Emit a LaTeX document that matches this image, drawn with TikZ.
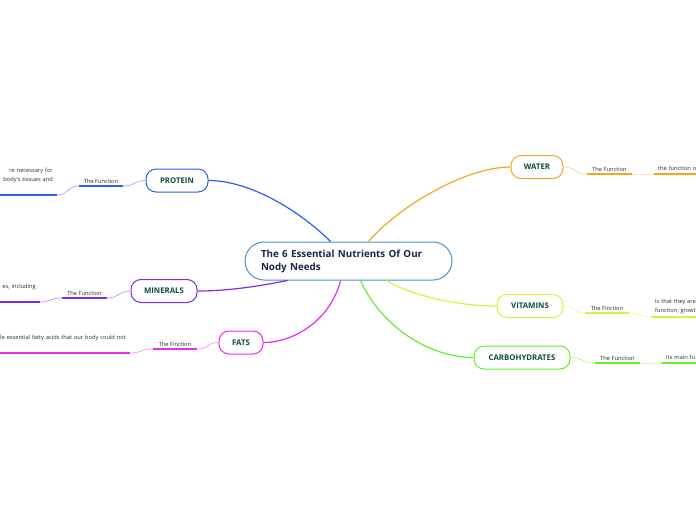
\documentclass[tikz,border=0pt]{standalone}
\usepackage{fontspec}
\setmainfont{Open Sans}
\usepackage{xcolor}
\usetikzlibrary{positioning}

\definecolor{hubline}{HTML}{4A90D2}
\definecolor{hubtext}{HTML}{14264F}
\definecolor{labtext}{HTML}{0E4D3C}
\definecolor{bodytext}{HTML}{2B2B2B}
\definecolor{cprotein}{HTML}{2A5EF5}
\definecolor{cminerals}{HTML}{7A2CF2}
\definecolor{cfats}{HTML}{E82CEB}
\definecolor{cwater}{HTML}{F7A325}
\definecolor{cvitamins}{HTML}{D6F23A}
\definecolor{ccarbs}{HTML}{5FF02E}

\tikzset{
  hub/.style={draw=hubline, line width=1pt, rounded corners=19pt, fill=white,
    text=hubtext, font=\fontsize{9.8}{13}\selectfont\bfseries,
    text width=175pt, align=left, inner xsep=16pt, minimum height=38pt},
  topic/.style={draw, line width=1pt, rounded corners=10pt, fill=white,
    text=labtext, font=\fontsize{7.8}{9}\selectfont\bfseries, minimum height=23pt},
  fnlabel/.style={text=bodytext, font=\fontsize{5.7}{9}\selectfont,
    inner xsep=0pt, inner ysep=2pt, anchor=south},
  descleft/.style={text=bodytext, font=\fontsize{5.7}{9}\selectfont,
    text width=170pt, align=right, inner xsep=4pt, anchor=south east},
  descright/.style={text=bodytext, font=\fontsize{5.7}{9}\selectfont,
    text width=170pt, align=left, inner xsep=4pt, anchor=south west},
  branch/.style={line width=1.2pt},
  ul/.style={line width=1.5pt},
  twig/.style={line width=0.8pt}
}

\begin{document}
\begin{tikzpicture}[x=1pt, y=-1pt]
\useasboundingbox (0,0) rectangle (696,520);

% centre
\node[hub] (hub) at (348.5,261) {The 6 Essential Nutrients Of Our\\Nody Needs};

% main topics
\node[topic, draw=cprotein, minimum width=62pt] (protein) at (177,180.5) {PROTEIN};
\node[topic, draw=cminerals, minimum width=66pt] (minerals) at (164,291) {MINERALS};
\node[topic, draw=cfats, minimum width=44pt] (fats) at (241,342.5) {FATS};
\node[topic, draw=cwater, minimum width=52pt] (water) at (537,167) {WATER};
\node[topic, draw=cvitamins, minimum width=66pt] (vitamins) at (530,306) {VITAMINS};
\node[topic, draw=ccarbs, minimum width=96pt] (carbs) at (522,357.5) {CARBOHYDRATES};

\draw[branch, cprotein] ([xshift=-18pt]hub.north) .. controls +(-30,-30) and +(42,0) .. (protein.east);
\draw[branch, cwater] ([xshift=20pt]hub.north) .. controls +(30,-35) and +(-45,0) .. (water.west);
\draw[branch, cminerals] ([xshift=-61pt]hub.south) .. controls +(-30,6) and +(30,0) .. (minerals.east);
\draw[branch, cfats] ([xshift=-8pt]hub.south) .. controls +(-10,40) and +(30,0) .. (fats.east);
\draw[branch, cvitamins] ([xshift=38pt]hub.south) .. controls +(25,15) and +(-40,0) .. (vitamins.west);
\draw[branch, ccarbs] ([xshift=12pt]hub.south) .. controls +(20,45) and +(-45,0) .. (carbs.west);

% protein
\node[fnlabel, minimum width=44pt] (protfn) at (101,186) {The Function};
\node[descleft, inner ysep=11.5pt] (protdesc) at (57,195) {re necessary for\\body's tissues and};
\draw[ul, cprotein] (protfn.south west) -- (protfn.south east);
\draw[ul, cprotein] (protdesc.south west) -- (protdesc.south east);
\draw[twig, cprotein!45] (protein.west) .. controls +(-12,0) and +(12,0) .. (protfn.south east);
\draw[twig, cprotein!45] (protfn.south west) .. controls +(-12,0) and +(12,0) .. (protdesc.south east);

% minerals
\node[fnlabel, minimum width=45pt] (minfn) at (84.5,298) {The Function};
\node[descleft, inner ysep=11.5pt] (mindesc) at (40,302) {es, including};
\draw[ul, cminerals] (minfn.south west) -- (minfn.south east);
\draw[ul, cminerals] (mindesc.south west) -- (mindesc.south east);
\draw[twig, cminerals!45] (minerals.west) .. controls +(-12,0) and +(12,0) .. (minfn.south east);
\draw[twig, cminerals!45] (minfn.south west) .. controls +(-12,0) and +(12,0) .. (mindesc.south east);

% fats
\node[fnlabel, minimum width=44pt] (fatfn) at (175,349) {The Finction};
\node[descleft, inner ysep=11.5pt] (fatdesc) at (130,353) {le essential fatty acids that our body could not};
\draw[ul, cfats] (fatfn.south west) -- (fatfn.south east);
\draw[ul, cfats] (fatdesc.south west) -- (fatdesc.south east);
\draw[twig, cfats!45] (fats.west) .. controls +(-12,0) and +(12,0) .. (fatfn.south east);
\draw[twig, cfats!45] (fatfn.south west) .. controls +(-12,0) and +(12,0) .. (fatdesc.south east);

% water
\node[fnlabel, minimum width=45pt] (watfn) at (609.5,174) {The Function};
\node[descright] (watdesc) at (654,174) {the function o};
\draw[ul, cwater] (watfn.south west) -- (watfn.south east);
\draw[ul, cwater] (watdesc.south west) -- (watdesc.south east);
\draw[twig, cwater!45] (water.east) .. controls +(12,0) and +(-12,0) .. (watfn.south west);
\draw[twig, cwater!45] (watfn.south east) .. controls +(12,0) and +(-12,0) .. (watdesc.south west);

% vitamins
\node[fnlabel, minimum width=44pt] (vitfn) at (607,313) {The Finction};
\node[descright] (vitdesc) at (651,317) {is that they are\\function, growt};
\draw[ul, cvitamins] (vitfn.south west) -- (vitfn.south east);
\draw[ul, cvitamins] (vitdesc.south west) -- (vitdesc.south east);
\draw[twig, cvitamins!45] (vitamins.east) .. controls +(12,0) and +(-12,0) .. (vitfn.south west);
\draw[twig, cvitamins!45] (vitfn.south east) .. controls +(12,0) and +(-12,0) .. (vitdesc.south west);

% carbohydrates
\node[fnlabel, minimum width=45pt] (carbfn) at (617.5,363) {The Function};
\node[descright] (carbdesc) at (662,363) {Its main fu};
\draw[ul, ccarbs] (carbfn.south west) -- (carbfn.south east);
\draw[ul, ccarbs] (carbdesc.south west) -- (carbdesc.south east);
\draw[twig, ccarbs!45] (carbs.east) .. controls +(12,0) and +(-12,0) .. (carbfn.south west);
\draw[twig, ccarbs!45] (carbfn.south east) .. controls +(12,0) and +(-12,0) .. (carbdesc.south west);

\end{tikzpicture}
\end{document}
